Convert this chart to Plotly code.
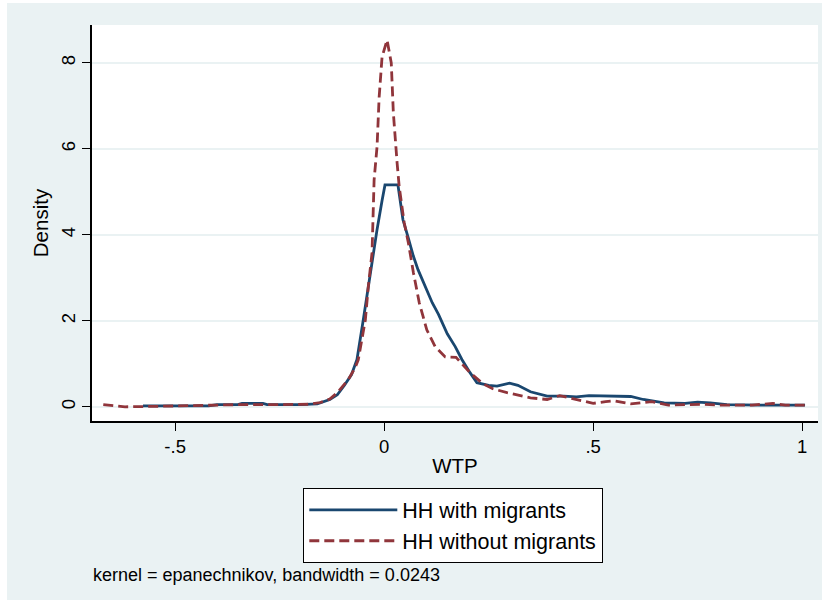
import plotly.graph_objects as go

# HH with migrants
with_x = [-0.577, -0.50, -0.42, -0.40, -0.35, -0.34, -0.29, -0.28, -0.20, -0.16, -0.13,
          -0.112, -0.095, -0.078, -0.065, -0.050, -0.035, -0.017, -0.005, 0.002, 0.033,
          0.045, 0.057, 0.070, 0.081, 0.098, 0.115, 0.130, 0.151, 0.170, 0.186, 0.205,
          0.222, 0.250, 0.270, 0.300, 0.320, 0.350, 0.390, 0.430, 0.460, 0.490, 0.520,
          0.590, 0.620, 0.670, 0.720, 0.750, 0.780, 0.820, 0.900, 1.007]
with_y = [0.02, 0.02, 0.02, 0.05, 0.05, 0.08, 0.08, 0.05, 0.05, 0.07, 0.17,
          0.28, 0.50, 0.75, 1.10, 2.02, 3.00, 4.12, 4.80, 5.16, 5.16,
          4.35, 3.95, 3.50, 3.19, 2.80, 2.42, 2.15, 1.70, 1.40, 1.10, 0.80,
          0.56, 0.50, 0.48, 0.55, 0.50, 0.35, 0.25, 0.25, 0.23, 0.26, 0.25,
          0.24, 0.17, 0.09, 0.08, 0.11, 0.09, 0.05, 0.04, 0.04]

# HH without migrants
without_x = [-0.672, -0.65, -0.62, -0.55, -0.45, -0.35, -0.25, -0.18, -0.153, -0.13,
             -0.112, -0.086, -0.070, -0.062, -0.045, -0.038, -0.029, -0.024, -0.017,
             -0.012, -0.005, 0.007, 0.017, 0.022, 0.031, 0.036, 0.048, 0.058, 0.070,
             0.084, 0.102, 0.122, 0.146, 0.172, 0.206, 0.237, 0.260, 0.294, 0.350,
             0.390, 0.420, 0.460, 0.500, 0.530, 0.550, 0.590, 0.620, 0.640, 0.680,
             0.720, 0.760, 0.800, 0.880, 0.930, 0.960, 1.007]
without_y = [0.05, 0.03, 0.00, 0.01, 0.03, 0.05, 0.05, 0.06, 0.10, 0.18,
             0.33, 0.63, 0.90, 1.09, 2.02, 2.79, 3.58, 5.28, 6.05,
             7.20, 8.14, 8.53, 8.00, 6.84, 5.67, 5.12, 4.28, 3.81, 3.12,
             2.42, 1.79, 1.40, 1.16, 1.15, 0.79, 0.53, 0.42, 0.33, 0.21,
             0.17, 0.26, 0.17, 0.08, 0.12, 0.14, 0.07, 0.10, 0.12, 0.04,
             0.05, 0.06, 0.04, 0.04, 0.08, 0.04, 0.04]

x_tickvals = [-0.5, 0, 0.5, 1]
x_ticklabels = ["-.5", "0", ".5", "1"]
y_tickvals = [0, 2, 4, 6, 8]
y_ticklabels = ["0", "2", "4", "6", "8"]

series_names = ["HH with migrants", "HH without migrants"]
note_text = "kernel = epanechnikov, bandwidth = 0.0243"

BLUE = "#1a476f"
RED = "#90353b"
PANEL = "#eaf2f3"
FONT = "Liberation Sans, Arial, sans-serif"

fig = go.Figure()
fig.add_trace(go.Scatter(x=with_x, y=with_y, mode="lines", name=series_names[0],
                         line=dict(color=BLUE, width=2.8)))
fig.add_trace(go.Scatter(x=without_x, y=without_y, mode="lines", name=series_names[1],
                         line=dict(color=RED, width=2.8, dash="10px,5px")))

# plot geometry in pixels: plot area x 92..818, y 25..421
W, H = 828, 604
L, R, T, B = 92, 818, 25, 421
pw, ph = R - L, B - T

def px_x(p):
    return (p - L) / pw

def px_y(p):
    return (B - p) / ph

fig.add_shape(type="rect", xref="paper", yref="paper", layer="below",
              x0=px_x(7), x1=px_x(822), y0=px_y(600), y1=px_y(3),
              fillcolor=PANEL, line=dict(width=0))
fig.add_shape(type="rect", xref="paper", yref="paper", layer="below",
              x0=0, x1=1, y0=0, y1=1, fillcolor="white", line=dict(width=0))

fig.add_annotation(text=note_text, xref="paper", yref="paper",
                   x=px_x(91), y=px_y(575), xanchor="left", yanchor="middle",
                   showarrow=False, font=dict(size=18, color="black", family=FONT))

fig.update_layout(
    width=W, height=H,
    margin=dict(l=L, r=W - R, t=T, b=H - B, pad=0),
    paper_bgcolor="white",
    plot_bgcolor="white",
    font=dict(family=FONT, color="black"),
    showlegend=True,
    legend=dict(x=px_x(303), y=px_y(488), xanchor="left", yanchor="top",
                bgcolor="white", bordercolor="black", borderwidth=1.3,
                font=dict(size=21.5, color="black", family=FONT),
                itemwidth=88, tracegroupgap=0),
    xaxis=dict(range=[-0.699, 1.038], tickvals=x_tickvals, ticktext=x_ticklabels,
               showgrid=False, zeroline=False, showline=True, linecolor="black",
               linewidth=1.5, ticks="outside", ticklen=8, tickcolor="black",
               tickfont=dict(size=18.5), title=dict(text="WTP", font=dict(size=20.5), standoff=3)),
    yaxis=dict(range=[-0.33, 8.88], tickvals=y_tickvals, ticktext=y_ticklabels,
               showgrid=True, gridcolor=PANEL, gridwidth=1.5, zeroline=False,
               showline=True, linecolor="black", linewidth=1.5, ticks="outside",
               ticklen=8, tickcolor="black", tickangle=-90, tickfont=dict(size=18.5),
               title=dict(text="Density", font=dict(size=20.5), standoff=4)),
)

fig.write_html("out.html")
